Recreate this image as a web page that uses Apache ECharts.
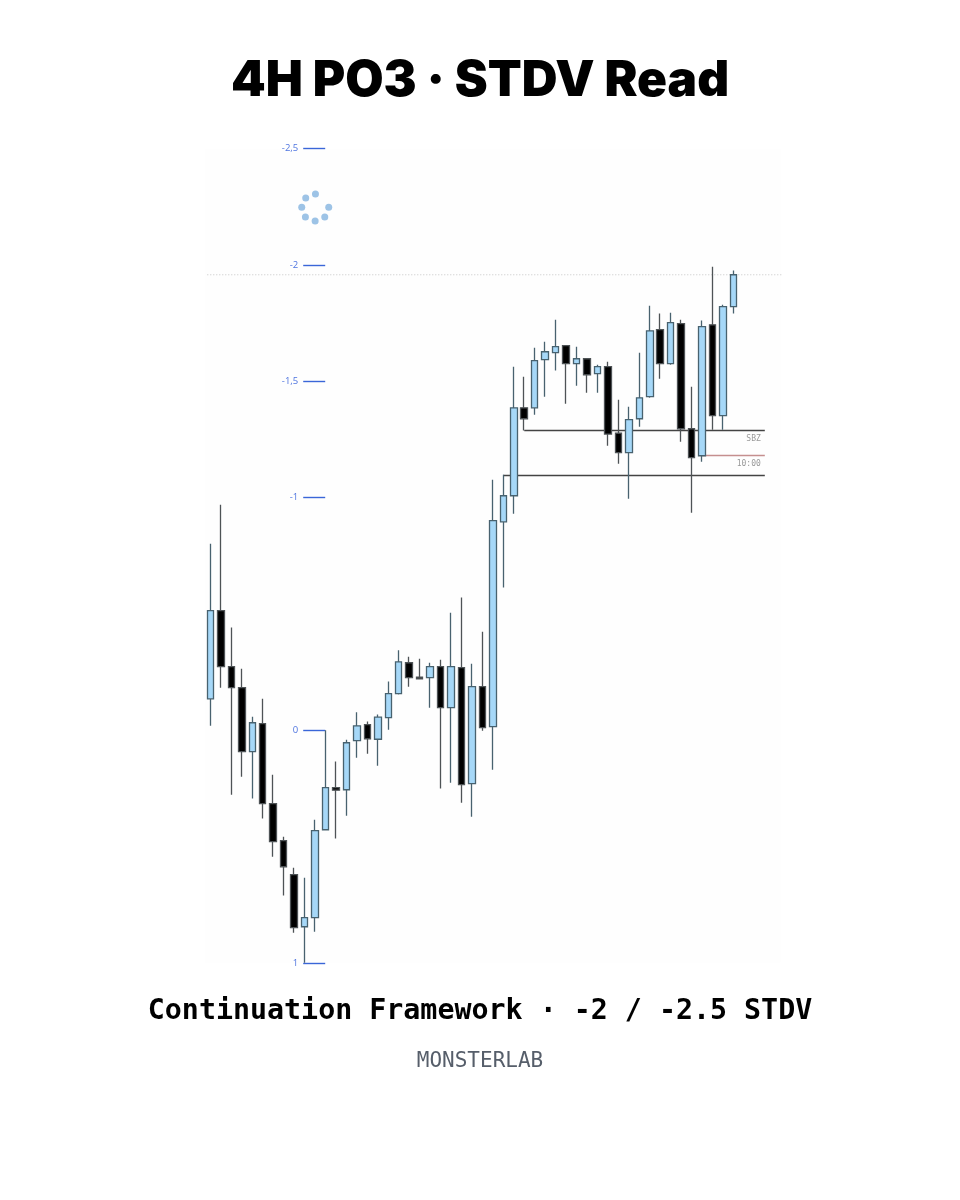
<!DOCTYPE html>
<html>
<head>
<meta charset="utf-8">
<style>html,body{margin:0;padding:0;background:#fff}#c{width:960px;height:1200px}</style>
<script src="https://cdn.jsdelivr.net/npm/echarts@6/dist/echarts.min.js"></script>
</head>
<body>
<div id="c"></div>
<script>
const titleText = '4H PO3 · STDV Read';
const subtitleText = 'Continuation Framework · -2 / -2.5 STDV';
const brandText = 'MONSTERLAB';
const stdvTicks = [-2.5, -2, -1.5, -1, 0, 1];

// STDV values are inverted: price going up means the value goes down.
const opens = [-0.135,-0.514,-0.273,-0.183,0.092,-0.028,0.316,0.475,0.621,0.845,
  0.806,0.428,0.247,0.256,0.045,-0.024,0.039,-0.054,-0.157,-0.290,
  -0.228,-0.226,-0.273,-0.097,-0.269,0.230,-0.187,-0.015,-0.896,-1.008,
  -1.386,-1.386,-1.593,-1.623,-1.653,-1.576,-1.597,-1.533,-1.563,-1.277,
  -1.193,-1.339,-1.434,-1.722,-1.576,-1.748,-1.296,-1.180,-1.743,-1.352,-1.821];
const closes = [-0.514,-0.273,-0.183,0.092,-0.032,0.316,0.479,0.587,0.849,0.806,
  0.432,0.247,0.258,0.054,-0.019,0.037,-0.056,-0.157,-0.294,-0.226,
  -0.221,-0.273,-0.097,-0.273,0.234,-0.187,-0.011,-0.901,-1.008,-1.386,
  -1.339,-1.589,-1.627,-1.649,-1.576,-1.597,-1.528,-1.563,-1.273,-1.193,
  -1.335,-1.429,-1.717,-1.576,-1.752,-1.296,-1.172,-1.735,-1.352,-1.821,-1.958];
const wickTops = [-0.802,-0.969,-0.441,-0.264,-0.058,-0.135,0.191,0.458,0.591,0.634,
  0.385,0,0.135,0.041,-0.077,-0.037,-0.067,-0.209,-0.344,-0.316,
  -0.307,-0.290,-0.303,-0.505,-0.570,-0.286,-0.423,-1.077,-1.098,-1.563,
  -1.520,-1.644,-1.670,-1.765,-1.653,-1.649,-1.597,-1.571,-1.584,-1.421,
  -1.391,-1.623,-1.825,-1.791,-1.795,-1.765,-1.477,-1.761,-1.993,-1.829,-1.976];
const wickBottoms = [-0.019,-0.183,0.277,0.200,0.294,0.380,0.544,0.711,0.871,1,
  0.866,0.428,0.466,0.368,0.118,0.101,0.153,-0.002,-0.153,-0.187,
  -0.219,-0.097,0.251,0.226,0.312,0.372,0.002,0.170,-0.613,-0.931,
  -1.288,-1.356,-1.434,-1.546,-1.404,-1.481,-1.451,-1.451,-1.223,-1.146,
  -0.995,-1.305,-1.429,-1.511,-1.571,-1.240,-0.935,-1.154,-1.292,-1.292,-1.791];

const sbzLevel = -1.288, lowerLevel = -1.098, timeLevel = -1.180, dottedLevel = -1.958;
const spinnerX = [10.04, 9.11, 8.73, 9.08, 10.01, 10.93, 11.31];
const spinnerY = [-2.305, -2.288, -2.248, -2.206, -2.189, -2.206, -2.248];
const dottedX = [-0.3, 54.7];
const categoryCount = 55;

const categories = Array.from({length: categoryCount}, (_, i) => String(i));
const candleData = opens.map((o, i) => [o, closes[i], wickTops[i], wickBottoms[i]]);
const mono = '"DejaVu Sans Mono", monospace';

const chart = echarts.init(document.getElementById('c'), null, {renderer: 'canvas'});
chart.setOption({
  animation: false,
  backgroundColor: '#ffffff',
  title: [
    {text: titleText, left: 475, top: 46, textAlign: 'center',
     textStyle: {fontFamily: 'Inter', fontWeight: 900, fontSize: 49.5, color: '#000', lineHeight: 60}},
    {text: subtitleText, left: 475, top: 993, textAlign: 'center',
     textStyle: {fontFamily: mono, fontWeight: 'bold', fontSize: 28.3, color: '#000'}},
    {text: brandText, left: 475, top: 1046, textAlign: 'center',
     textStyle: {fontFamily: mono, fontWeight: 'normal', fontSize: 21, color: '#565e6a'}}
  ],
  grid: {left: 205.2, width: 575.3, top: 148.7, height: 814.1, show: true,
         backgroundColor: '#fefefe', borderWidth: 0},
  xAxis: [
    {type: 'category', data: categories, show: false, boundaryGap: true},
    {type: 'value', min: -0.5, max: categoryCount - 0.5, show: false, splitLine: {show: false}}
  ],
  yAxis: {
    type: 'value', inverse: true, min: -2.5, max: 1, interval: 0.5,
    position: 'left', offset: -120,
    axisLine: {show: false},
    splitLine: {show: false},
    axisTick: {show: true, length: 22, customValues: stdvTicks,
               lineStyle: {color: '#3a66d8', width: 1.4}},
    axisLabel: {show: true, customValues: stdvTicks, margin: 27, fontSize: 9.5,
                fontFamily: '"Open Sans"', color: '#4f75e0',
                formatter: v => String(v).replace('.', ',')}
  },
  series: [
    {
      type: 'line', xAxisIndex: 1, clip: false, showSymbol: false, silent: true, z: 1,
      data: dottedX.map(x => [x, dottedLevel]),
      lineStyle: {color: '#c4c4c4', width: 1, type: [1, 2]}
    },
    {
      type: 'candlestick', xAxisIndex: 0, z: 3, barWidth: 7,
      data: candleData,
      itemStyle: {color: '#000000', color0: '#a6d8f8', borderColor: '#4e5356', borderColor0: '#48626f', borderWidth: 1.3},
      markLine: {
        silent: true, symbol: 'none', z: 2, animation: false,
        lineStyle: {color: '#444', type: 'solid', width: 1.3},
        label: {show: false},
        data: [
          [{coord: ['30', sbzLevel], label: {show: true, formatter: 'SBZ', position: 'insideEndBottom', distance: 4,
             fontFamily: mono, fontSize: 8, color: '#999'}},
           {coord: ['53', sbzLevel]}],
          [{coord: ['28', lowerLevel]}, {coord: ['53', lowerLevel]}],
          [{coord: ['47', timeLevel], lineStyle: {color: '#c58f8f', width: 1.3},
            label: {show: true, formatter: '10:00', position: 'insideEndBottom', distance: 4,
             fontFamily: mono, fontSize: 8, color: '#999'}},
           {coord: ['53', timeLevel]}]
        ]
      }
    },
    {
      type: 'scatter', xAxisIndex: 1, symbolSize: 7, z: 2, silent: true,
      data: spinnerX.map((x, i) => [x, spinnerY[i]]),
      itemStyle: {color: '#9dc3e6', opacity: 1}
    }
  ]
});
</script>
</body>
</html>
